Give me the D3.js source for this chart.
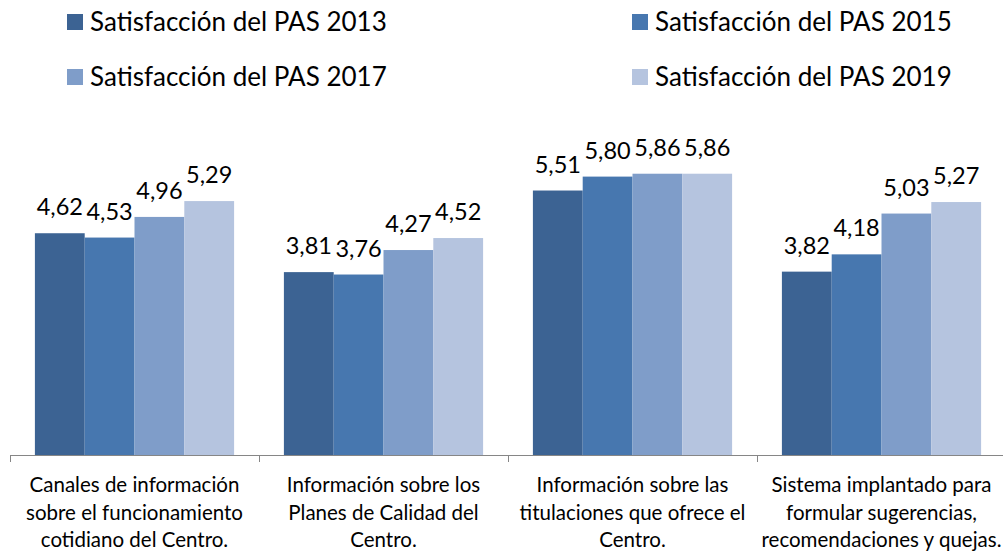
<!DOCTYPE html>
<html><head><meta charset="utf-8">
<script src="https://cdn.jsdelivr.net/npm/d3@7"></script>
<style>body{margin:0;background:#fff}svg{display:block}text{font-family:Lato,"Open Sans",sans-serif;fill:#000}</style>
</head><body><svg id="c" width="1003" height="554"></svg>
<script>
const categories = [
  ["Canales de información","sobre el funcionamiento","cotidiano del Centro."],
  ["Información sobre los","Planes de Calidad del","Centro."],
  ["Información sobre las","titulaciones que ofrece el","Centro."],
  ["Sistema implantado para","formular sugerencias,","recomendaciones y quejas."]
];
const seriesNames = ["Satisfacción del PAS 2013","Satisfacción del PAS 2015","Satisfacción del PAS 2017","Satisfacción del PAS 2019"];
const s2013 = [4.62, 3.81, 5.51, 3.82];
const s2015 = [4.53, 3.76, 5.80, 4.18];
const s2017 = [4.96, 4.27, 5.86, 5.03];
const s2019 = [5.29, 4.52, 5.86, 5.27];
const series = [s2013, s2015, s2017, s2019];
const colors = ["#3C6393","#4777AF","#7F9DC9","#B5C4DF"];

const svg = d3.select("#c");
const xc = d3.scaleBand().domain(d3.range(categories.length)).range([10, 1006]);
const inner = xc.bandwidth() * 0.8;
const x1 = d3.scaleBand().domain(d3.range(series.length)).range([0, inner]);
const y = d3.scaleLinear().domain([0, 7]).range([455, 119]);
const barX = (i, si) => xc(i) + xc.bandwidth() * 0.1 + x1(si);

// bars
series.forEach((vals, si) => {
  const g = svg.append("g");
  g.selectAll("rect").data(vals).join("rect")
    .attr("x", (d, i) => barX(i, si))
    .attr("width", x1.bandwidth())
    .attr("y", d => y(d))
    .attr("height", d => y(0) - y(d))
    .attr("fill", colors[si]);
  g.selectAll("text").data(vals).join("text")
    .attr("x", (d, i) => barX(i, si) + x1.bandwidth() / 2)
    .attr("y", d => y(d) - 18)
    .attr("text-anchor", "middle")
    .attr("font-size", 23.5)
    .text(d => d3.format(".2f")(d).replace(".", ","));
});

// axis
const ax = svg.append("g").attr("transform", `translate(0,${y(0)})`);
ax.append("line").attr("x1", 10).attr("x2", 1003).attr("y1", 0.5).attr("y2", 0.5).attr("stroke", "#868686");
ax.selectAll("line.t").data(d3.range(categories.length + 1)).join("line").attr("class","t")
  .attr("x1", i => Math.round(10 + i * xc.step()) + 0.5).attr("x2", i => Math.round(10 + i * xc.step()) + 0.5)
  .attr("y1", 0).attr("y2", 7).attr("stroke", "#868686");
categories.forEach((lines, i) => {
  const t = ax.append("text").attr("text-anchor", "middle").attr("font-size", 20.5);
  lines.forEach((l, k) => t.append("tspan").attr("x", xc(i) + xc.bandwidth() / 2).attr("y", 37 + k * 27.5).text(l));
});

// legend
const legPos = [[67, 22], [632, 22], [67, 77], [632, 77]];
seriesNames.forEach((n, i) => {
  const g = svg.append("g").attr("transform", `translate(${legPos[i][0]},${legPos[i][1]})`);
  g.append("rect").attr("x", 0).attr("y", -8).attr("width", 16).attr("height", 16).attr("fill", colors[i]);
  g.append("text").attr("x", 23).attr("y", 0).attr("dy", "0.36em").attr("font-size", 26).text(n);
});
</script></body></html>
